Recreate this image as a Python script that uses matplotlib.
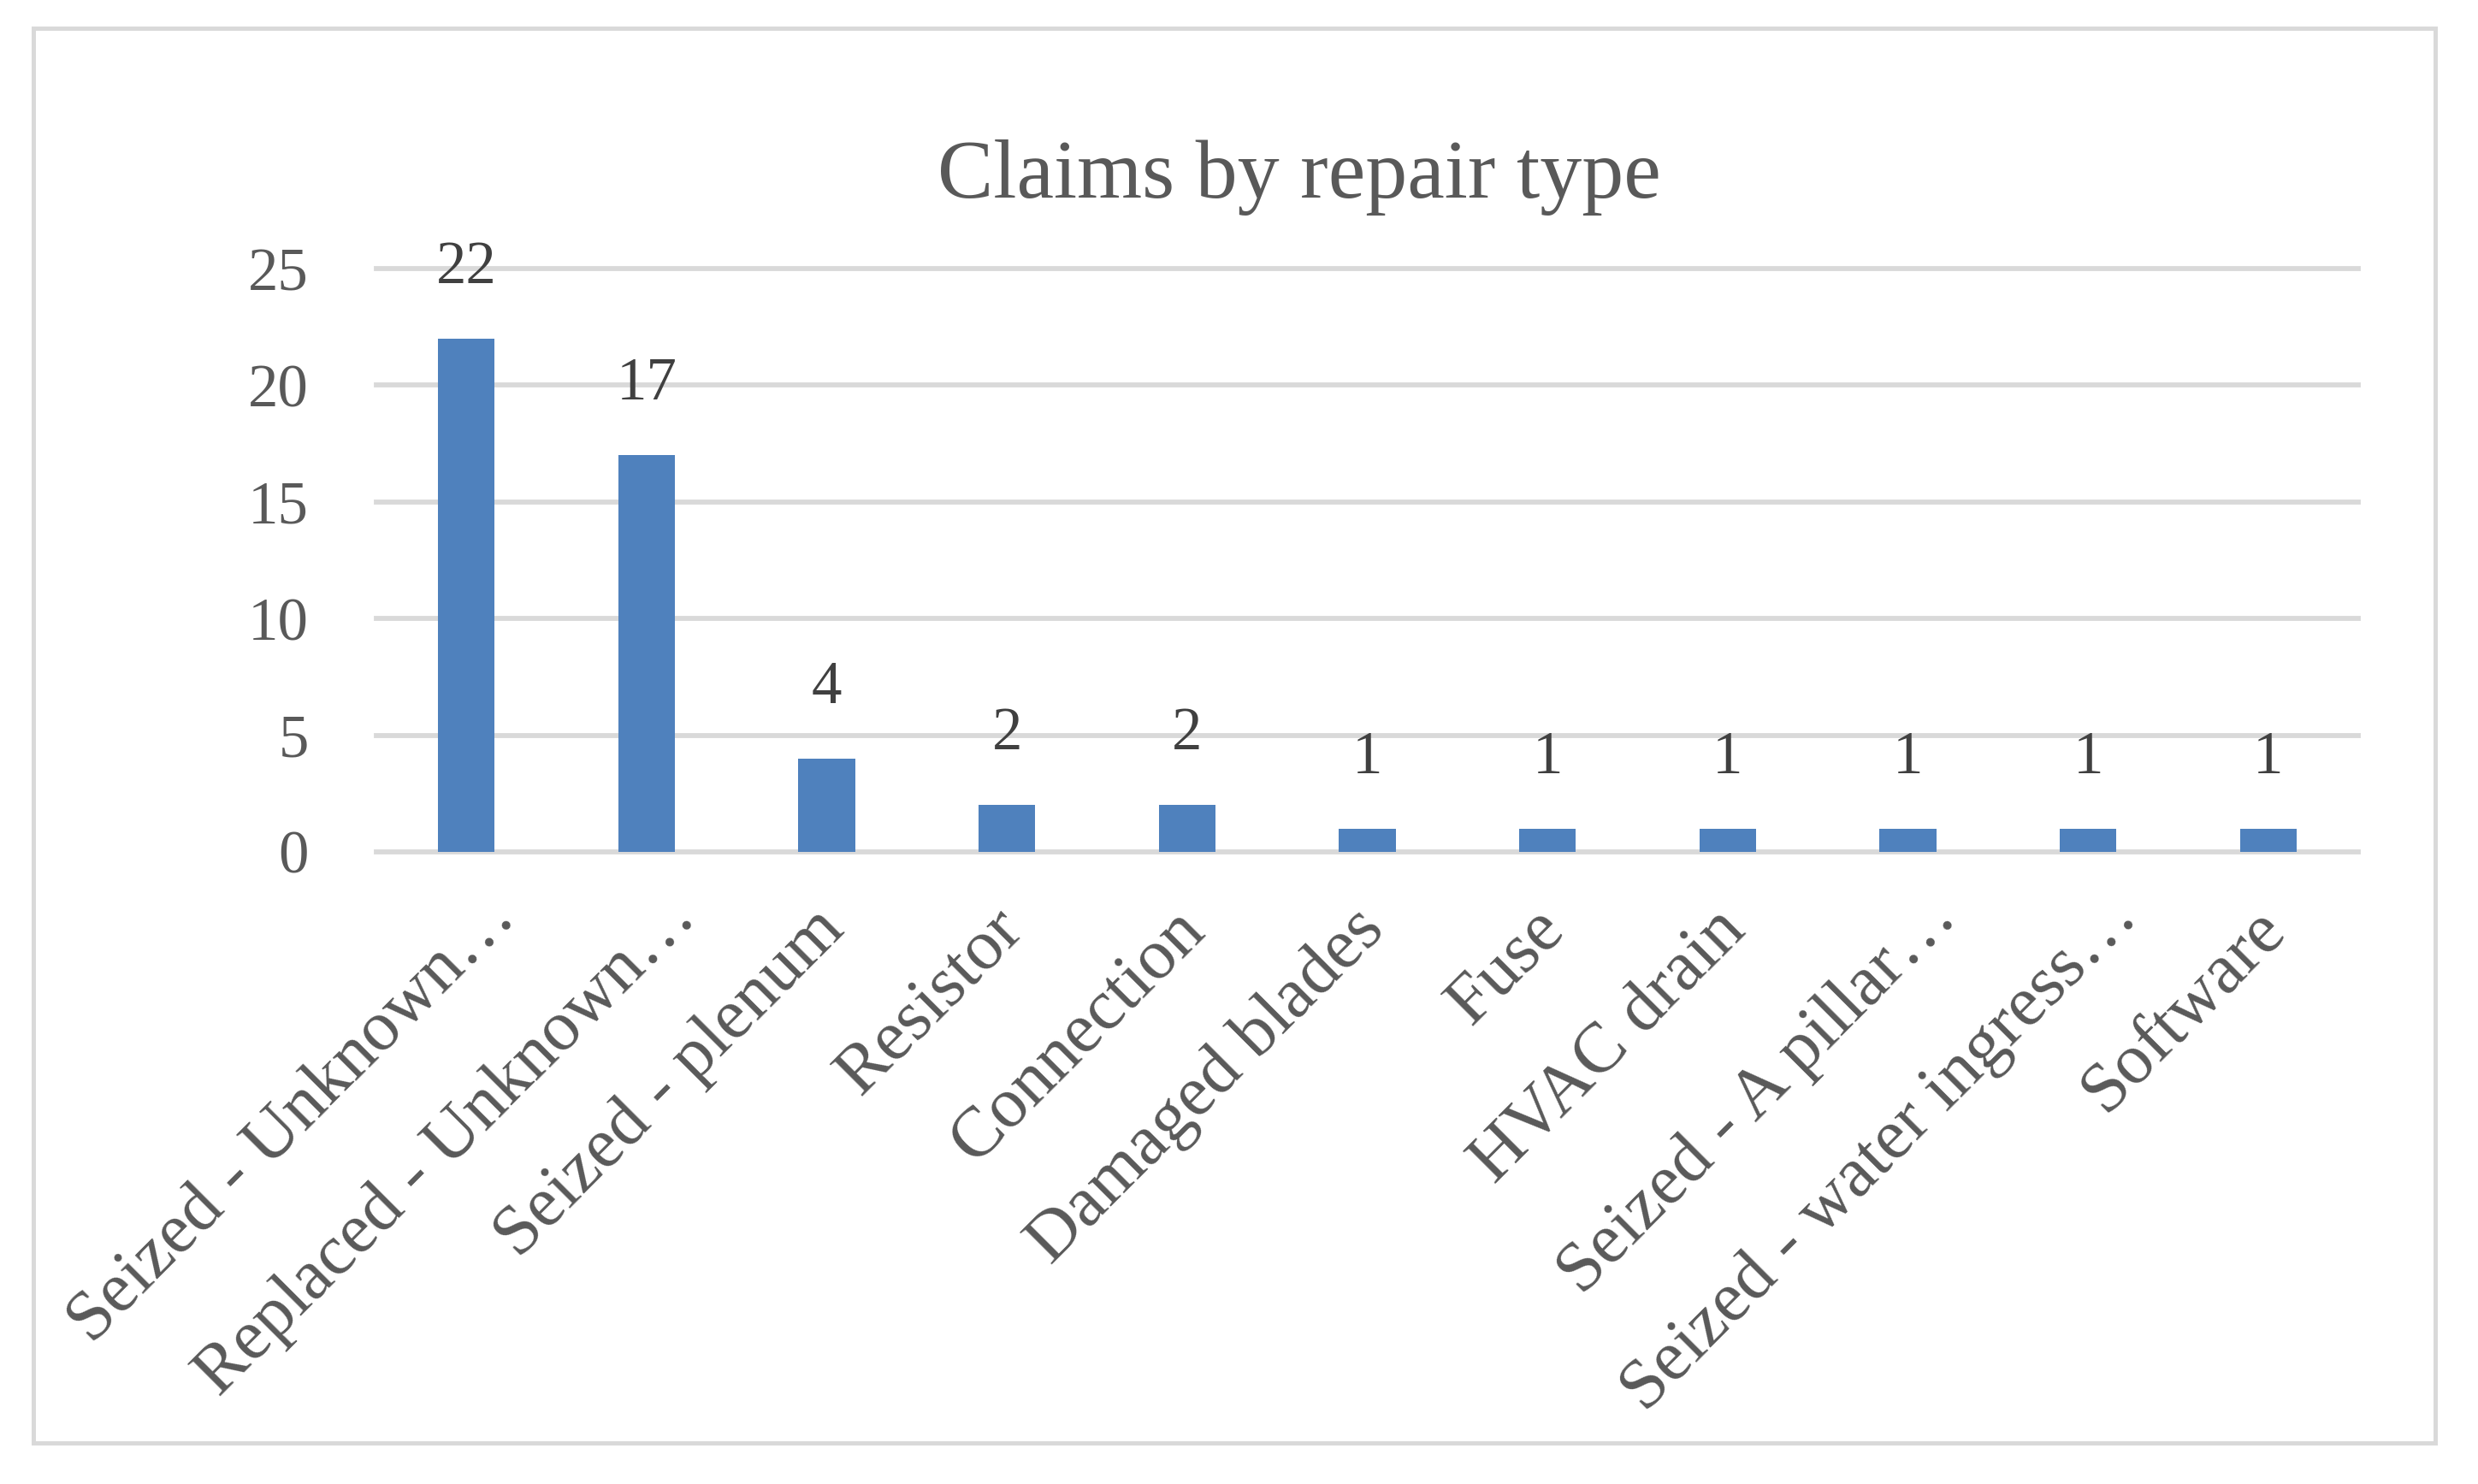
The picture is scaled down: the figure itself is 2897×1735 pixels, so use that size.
import matplotlib
matplotlib.use("Agg")
import matplotlib.pyplot as plt
from matplotlib.patches import Rectangle
from matplotlib.transforms import ScaledTranslation

# Chart data
categories = [
    "Seized - Unknown…",
    "Replaced - Unknown…",
    "Seized - plenum",
    "Resistor",
    "Connection",
    "Damaged blades",
    "Fuse",
    "HVAC drain",
    "Seized - A pillar…",
    "Seized - water ingress…",
    "Software",
]
claims = [22, 17, 4, 2, 2, 1, 1, 1, 1, 1, 1]
y_ticks = [0, 5, 10, 15, 20, 25]

BAR_COLOR = "#4F81BD"
GRID_COLOR = "#D9D9D9"
TEXT_COLOR = "#595959"
LABEL_COLOR = "#404040"

plt.rcParams["font.family"] = ["Liberation Serif", "DejaVu Serif"]

W, H, DPI = 2897, 1735, 300
fig = plt.figure(figsize=(W / DPI, H / DPI), dpi=DPI)

# outer chart border
fig.patches.append(Rectangle(
    (39 / W, 1 - 1687 / H), (2847 - 39) / W, (1687 - 33) / H,
    transform=fig.transFigure, fill=False, edgecolor=GRID_COLOR, linewidth=1.2
))

ax = fig.add_axes([440 / W, 1 - 996 / H, (2757 - 440) / W, (996 - 314) / H])

x = list(range(len(categories)))
ax.bar(x, claims, width=0.315, color=BAR_COLOR, zorder=2)

for yv in y_ticks:
    ax.axhline(yv, color=GRID_COLOR, linewidth=1.4, zorder=1, clip_on=False)

for xi, v in zip(x, claims):
    ax.annotate(str(v), (xi, v), xytext=(0, 12), textcoords="offset points",
                ha="center", va="bottom", fontsize=17, color=LABEL_COLOR)

ax.set_xlim(-0.5, len(categories) - 0.5)
ax.set_ylim(0, 25)
ax.set_yticks(y_ticks)
ax.set_yticklabels([str(t) for t in y_ticks], fontsize=17, color=TEXT_COLOR)
ax.set_xticks(x)
ax.set_xticklabels(categories, rotation=45, ha="right", va="center",
                   rotation_mode="anchor", fontsize=20, color=TEXT_COLOR)
ax.tick_params(axis="both", length=0)
ax.tick_params(axis="y", pad=19)
ax.tick_params(axis="x", pad=19)

# truncated labels sit a little further up-right, like the original
for lbl in ax.get_xticklabels():
    if lbl.get_text().endswith("…"):
        shift = ScaledTranslation(11 / 72, 3.5 / 72, fig.dpi_scale_trans)
    else:
        shift = ScaledTranslation(2 / 72, 0, fig.dpi_scale_trans)
    lbl.set_transform(lbl.get_transform() + shift)
for s in ax.spines.values():
    s.set_visible(False)

fig.text(1519 / W, 1 - 231 / H, "Claims by repair type", ha="center",
         va="baseline", fontsize=23.5, color=TEXT_COLOR)

fig.savefig("out.png", dpi=DPI, facecolor="white")
